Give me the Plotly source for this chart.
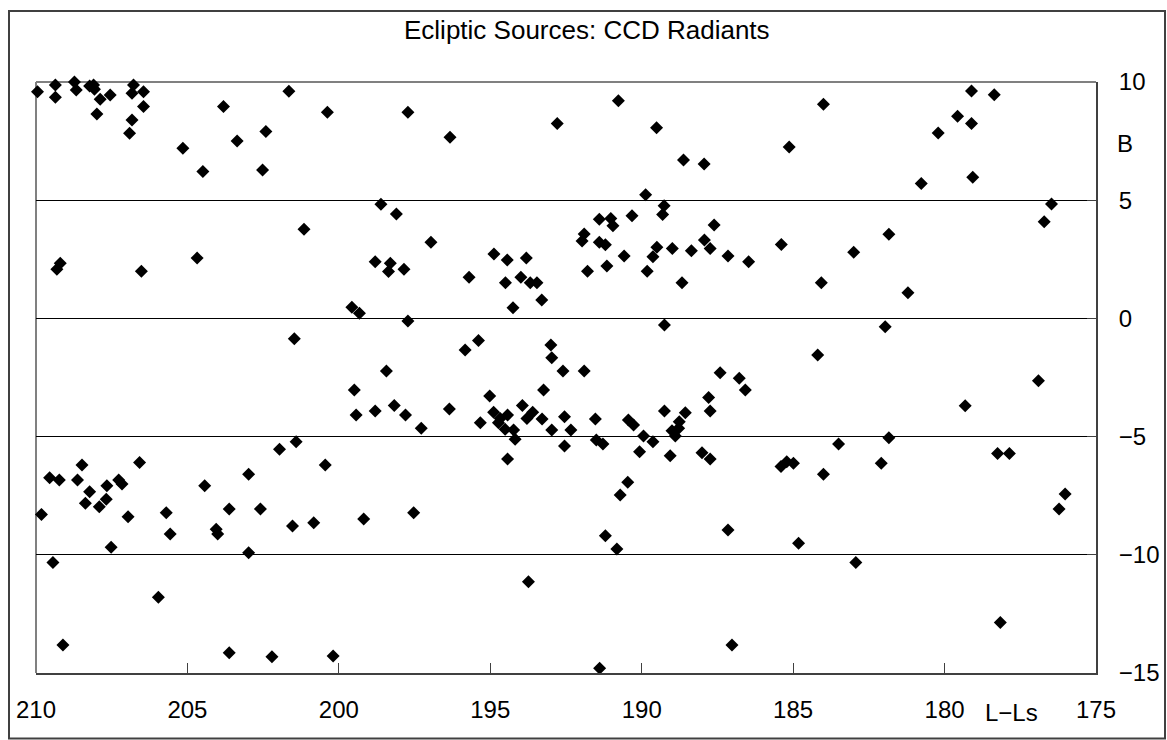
import plotly.graph_objects as go

# L - Ls (degrees) and B (degrees) of the CCD radiants
lls = [
    209.95, 209.36, 209.36, 208.73, 208.67, 208.23, 208.10, 208.07, 207.88, 207.99,
    207.51, 207.55, 206.78, 206.83, 206.45, 206.45, 206.83, 206.91, 205.15, 204.49,
    203.81, 203.36, 202.41, 202.52, 201.65, 209.20, 209.31, 206.52, 204.68, 201.47,
    200.38, 197.72, 196.33, 192.79, 198.61, 198.10, 201.15, 196.96, 198.80, 198.30,
    198.36, 197.85, 195.70, 194.88, 194.44, 193.81, 194.50, 193.99, 193.68, 193.46,
    193.30, 194.25, 199.57, 199.32, 197.72, 195.83, 195.39, 193.00, 192.97, 190.77,
    189.51, 188.62, 187.94, 185.13, 184.00, 189.87, 189.26, 189.31, 191.40, 191.02,
    190.95, 190.32, 191.90, 191.97, 191.40, 191.20, 190.58, 191.79, 191.15, 189.82,
    189.50, 189.63, 188.99, 188.36, 187.93, 187.74, 187.61, 187.15, 186.47, 185.39,
    184.07, 188.67, 183.00, 189.25, 184.19, 179.11, 178.36, 179.57, 179.11, 180.21,
    180.77, 179.07, 176.47, 176.71, 181.84, 181.21, 181.96,
    201.96, 201.41, 209.55, 209.23, 208.48, 208.63, 208.23, 208.37, 207.66, 207.68,
    207.91, 207.27, 207.16, 206.58, 206.96, 209.82, 205.70, 205.57, 204.43, 204.05,
    204.00, 203.62, 202.98, 202.59, 202.98, 201.53, 207.52, 209.44, 205.96, 209.11,
    203.62, 202.21, 192.60, 198.43, 199.49, 199.43, 198.80, 198.17, 197.80, 197.28,
    196.35, 195.02, 195.33, 194.89, 194.67, 194.43, 194.73, 194.51, 194.23, 194.18,
    194.43, 193.94, 193.60, 193.79, 193.24, 193.29, 192.97, 192.55, 192.34, 192.55,
    191.90, 200.45, 200.83, 199.18, 197.53, 193.74, 200.19, 191.53, 191.50, 191.28,
    190.44, 190.27, 189.94, 189.63, 190.07, 189.25, 188.56, 188.76, 189.00, 188.78,
    188.89, 189.06, 187.79, 187.74, 187.41, 186.78, 186.58, 188.01, 187.74, 190.46,
    190.71, 191.20, 190.82, 187.15, 187.02, 191.39, 185.40, 185.21, 184.99, 183.50,
    184.00, 184.82, 182.93, 181.84, 182.09, 179.32, 176.90, 178.25, 177.86, 176.02,
    176.22, 178.16,
]
b = [
    9.59, 9.87, 9.35, 10.00, 9.66, 9.83, 9.87, 9.69, 9.27, 8.65,
    10.01, 9.45, 9.87, 9.52, 9.59, 8.96, 8.39, 7.83, 7.20, 6.21,
    8.96, 7.50, 7.91, 6.28, 9.61, 2.33, 2.08, 1.99, 2.55, -0.86,
    8.72, 8.72, 7.66, 8.24, 4.83, 4.42, 3.77, 3.22, 2.40, 2.33,
    1.98, 2.08, 1.74, 2.72, 2.47, 2.55, 1.51, 1.74, 1.51, 1.51,
    0.78, 0.45, 0.47, 0.22, -0.11, -1.34, -0.94, -1.13, -1.66, 9.21,
    8.07, 6.70, 6.53, 7.25, 9.06, 5.23, 4.77, 4.40, 4.19, 4.23,
    3.92, 4.34, 3.57, 3.27, 3.22, 3.12, 2.64, 1.99, 2.22, 1.99,
    3.01, 2.61, 2.96, 2.86, 3.32, 2.96, 3.95, 2.64, 2.40, 3.13,
    1.51, 1.51, 2.80, -0.28, -1.55, 9.62, 9.46, 8.55, 8.24, 7.84,
    5.71, 5.97, 4.84, 4.09, 3.56, 1.09, -0.35,
    -5.54, -5.22, -6.74, -6.84, -6.20, -6.84, -7.33, -7.82, -7.08, -7.65,
    -7.97, -6.84, -7.00, -6.10, -8.39, -8.29, -8.22, -9.12, -7.08, -8.92,
    -9.12, -8.06, -6.59, -8.06, -9.91, -8.78, -9.68, -10.33, -11.80, -13.82,
    -14.14, -14.31, -2.22, -2.22, -3.03, -4.09, -3.92, -3.68, -4.09, -4.65,
    -3.83, -3.28, -4.41, -3.97, -4.23, -4.09, -4.41, -4.69, -4.72, -5.11,
    -5.95, -3.68, -3.97, -4.23, -3.03, -4.26, -4.72, -4.16, -4.72, -5.40,
    -2.22, -6.20, -8.64, -8.49, -8.22, -11.14, -14.28, -4.26, -5.14, -5.31,
    -4.30, -4.51, -4.97, -5.22, -5.64, -3.92, -3.99, -4.37, -4.75, -4.65,
    -4.97, -5.81, -3.35, -3.92, -2.30, -2.53, -3.03, -5.68, -5.95, -6.93,
    -7.47, -9.19, -9.75, -8.95, -13.82, -14.80, -6.27, -6.06, -6.13, -5.31,
    -6.59, -9.51, -10.33, -5.05, -6.13, -3.69, -2.64, -5.71, -5.71, -7.43,
    -8.06, -12.86,
]

x_ticks = [210, 205, 200, 195, 190, 185, 180, 175]
y_ticks = [-15, -10, -5, 0, 5, 10]

FONT = "Liberation Sans, Arial, sans-serif"

fig = go.Figure()
fig.add_trace(go.Scatter(
    x=lls, y=b, mode="markers",
    marker=dict(symbol="diamond", size=10, color="black", line=dict(width=0)),
    cliponaxis=False, showlegend=False,
))

W, H = 1167, 740
L, R, T, B = 36, 71, 82, 67
pw, ph = W - L - R, H - T - B

def px(xp):
    return (xp - L) / pw

def py(yp):
    return (H - B - yp) / ph

fig.update_layout(
    width=W, height=H,
    margin=dict(l=L, r=R, t=T, b=B, autoexpand=False),
    paper_bgcolor="white", plot_bgcolor="white",
    font=dict(family=FONT, color="black", size=24),
    xaxis=dict(
        range=[210, 175], tickvals=x_ticks, ticktext=[str(v) for v in x_ticks],
        showgrid=False, zeroline=False,
        showline=True, linecolor="#404040", linewidth=2,
        ticks="inside", ticklen=10, tickcolor="#404040", tickwidth=1,
        ticklabelstandoff=14, tickfont=dict(size=24),
    ),
    yaxis=dict(
        range=[-15, 10], tickvals=y_ticks, side="right",
        showgrid=True, gridcolor="black", gridwidth=1, zeroline=False,
        showline=True, linecolor="#404040", linewidth=2,
        ticks="inside", ticklen=9, tickcolor="#404040", tickwidth=1,
        ticklabelstandoff=16, tickfont=dict(size=24),
    ),
    shapes=[
        dict(type="line", xref="paper", yref="paper", x0=0, x1=1, y0=1, y1=1,
             line=dict(color="#808080", width=2), layer="between"),
        dict(type="line", xref="paper", yref="paper", x0=0, x1=0, y0=0, y1=1,
             line=dict(color="#808080", width=2), layer="between"),
        dict(type="rect", xref="paper", yref="paper",
             x0=px(9), x1=px(1165), y0=py(738.5), y1=py(11),
             line=dict(color="#404040", width=2), fillcolor="rgba(0,0,0,0)"),
    ],
    annotations=[
        dict(text="Ecliptic Sources: CCD Radiants", xref="paper", yref="paper",
             x=px(587), y=py(30), showarrow=False, xanchor="center", yanchor="middle",
             font=dict(size=26, family=FONT)),
        dict(text="B", xref="paper", yref="paper", x=px(1125), y=py(143),
             showarrow=False, xanchor="center", yanchor="middle",
             font=dict(size=24, family=FONT)),
        dict(text="L\u2212Ls", xref="paper", yref="paper", x=px(1011), y=py(712),
             showarrow=False, xanchor="center", yanchor="middle",
             font=dict(size=24, family=FONT)),
    ],
)

fig.write_html("out.html")
